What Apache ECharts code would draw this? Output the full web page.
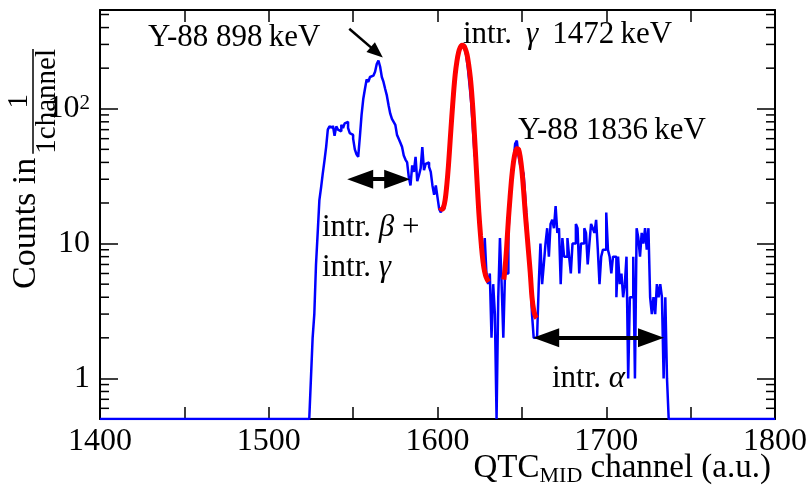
<!DOCTYPE html>
<html><head><meta charset="utf-8">
<script src="https://cdn.jsdelivr.net/npm/echarts@6/dist/echarts.min.js"></script>
<style>html,body{margin:0;padding:0;background:#fff}#c{width:810px;height:494px}</style>
</head><body><div id="c"></div>
<script>
// ---- axis ranges & tick labels ----
const xMin = 1400, xMax = 1800, xTickStep = 50;
const xLabelValues = [1400, 1500, 1600, 1700, 1800];
const yMin = 0.5, yMax = 540;
const yLabelValues = [1, 10, 100];
const yMinorTickValues = [0.6,0.7,0.8,0.9, 2,3,4,5,6,7,8,9, 20,30,40,50,60,70,80,90, 200,300,400,500];

// ---- histogram: counts per 1-channel bin, first bin starts at histStart ----
const histStart = 1524;
const counts = [
  0, 1, 2, 3, 7, 12, 21, 26, 33, 41, 52, 70,          // 1524-1535
  74, 72, 75, 63, 74, 70, 68, 76, 72, 78, 80, 72,       // 1536-1547
  66, 64, 60, 50, 46, 44, 62, 90, 118, 140, 165, 158,   // 1548-1559
  172, 176, 182, 188, 215, 228, 205, 172, 158, 140, 125, 106, // 1560-1571
  92, 84, 80, 76, 64, 60, 56, 52, 45, 42, 40, 31,       // 1572-1583
  27, 38, 34, 44, 29, 32, 36, 52, 35, 39, 40, 37,       // 1584-1595
  34, 27, 23, 27, 22, 18, 17, 19, 18, 26, 34, 48,       // 1596-1607
  75, 110, 150, 200, 250, 270, 300, 290, 280, 250, 200, 150, // 1608-1619
  110, 70, 45, 42, 22, 14, 10, 7, 11, 6, 5, 6,          // 1620-1631
  2, 5, 3, 0, 4, 11, 5, 2, 6, 6, 12, 20,                // 1632-1643
  30, 40, 55, 58, 45, 38, 36, 33, 22, 14, 8, 6,         // 1644-1655
  3, 2, 2, 2, 5, 10, 5, 7, 10, 13, 8, 14,               // 1656-1667
  15, 13, 19, 12, 13, 5, 11, 8, 8, 11, 8, 6,            // 1668-1679
  10, 10, 14, 13, 6, 10, 10, 13, 12, 7, 10, 14,         // 1680-1691
  13, 12, 15, 9, 5, 8, 9, 9, 17, 9, 8, 6,               // 1692-1703
  8, 8, 4, 8, 5, 6, 4, 5, 8, 1, 4, 4,                   // 1704-1715
  8, 1, 13, 11, 8, 12, 10, 13, 9, 13, 4, 3,             // 1716-1727
  4, 3, 5, 4, 5, 4, 1, 4, 1, 0                          // 1728-1737
];

// ---- fitted curves ----
const fit1Channels = [1601.5,1602.5,1603.5,1604.5,1605.5,1606.5,1607.5,1608.5,1609.5,1610.5,1611.5,1612.5,1613.5,1614.5,1615.5,1616.5,1617.5,1618.5,1619.5,1620.5,1621.5,1622.5,1623.5,1624.5,1625.5,1626.5,1627.5,1628.5,1629.5,1630.3];
const fit1Values   = [18.5,18,18.5,21,27,38,58,88,130,180,225,262,285,296,293,278,252,212,168,120,78,47,28,17,11.5,8.3,6.6,5.8,5.4,5.2];
const fit2Channels = [1639.3,1640,1641,1642,1643,1644,1645,1646,1647,1648,1649,1650,1651,1652,1653,1654,1655,1656,1657,1658,1658.8];
const fit2Values   = [5.4,6.5,9.5,15,22,31,40,47,50.5,50,44,35,25,17,12,8.5,6,4,3.2,2.9,2.8];

// ---- annotation arrows (data coordinates of the arrow-head centres) ----
const betaArrow  = [[1554.2, 30], [1576.1, 30]];
const alphaArrow = [[1664.4, 2], [1726.5, 2]];
const y88Arrow   = [[1547.7, 392], [1564.0, 262]];

const LF = '"Liberation Serif","Times New Roman",serif';
const chart = echarts.init(document.getElementById('c'), null, {renderer: 'canvas'});

// histogram line (bin edges, step)
const histData = [[xMin, yMin]];
for (let i = 0; i < counts.length; i++) {
  histData.push([histStart + i, counts[i] > 0 ? counts[i] : yMin]);
}
histData.push([histStart + counts.length, yMin]);
histData.push([xMax, yMin]);

const fit1 = fit1Channels.map((c, i) => [c, fit1Values[i]]);
const fit2 = fit2Channels.map((c, i) => [c, fit2Values[i]]);

const mc = document.createElement('canvas').getContext('2d');
function tw(s, size, style) { mc.font = (style || '') + ' ' + size + 'px "Liberation Serif"'; return mc.measureText(s).width; }

const LBL = 32;
const axisLineStyle = {color: '#000', width: 2};
function xAxisDef(pos, showLabel) {
  return {
    type: 'value', min: xMin, max: xMax, interval: xTickStep, position: pos,
    axisLine: {show: true, onZero: false, lineStyle: axisLineStyle},
    axisTick: {show: true, inside: true, length: 12, lineStyle: {color: '#000', width: 1.5}},
    axisLabel: {show: showLabel, margin: 7, color: '#000', fontFamily: LF, fontSize: LBL,
      formatter: v => xLabelValues.indexOf(v) >= 0 ? String(v) : ''},
    splitLine: {show: false}
  };
}
function yAxisDef(pos, showLabel) {
  return {
    type: 'log', logBase: 10, min: yMin, max: yMax, position: pos,
    axisLine: {show: true, onZero: false, lineStyle: axisLineStyle},
    axisTick: {show: true, inside: true, length: 18, lineStyle: {color: '#000', width: 1.5}},
    axisLabel: {show: showLabel, margin: 10, color: '#000', fontFamily: LF, fontSize: LBL,
      showMinLabel: false, showMaxLabel: false,
      formatter: v => {
        const r = Math.round(v);
        if (Math.abs(v - r) > 1e-6 || yLabelValues.indexOf(r) < 0) return '';
        if (r === 100) return '{b|10}{s|2}';
        return '{b|' + r + '}';
      },
      rich: {
        b: {fontFamily: LF, fontSize: LBL, color: '#000'},
        s: {fontFamily: LF, fontSize: 21, color: '#000', verticalAlign: 'top', padding: [0, 0, 10, 0]}
      }},
    splitLine: {show: false}
  };
}

function txt(x, y, text, rich) {
  return {type: 'text', x: x, y: y, silent: true,
    style: {text: text, fill: '#000', font: '31px ' + LF, align: 'left', verticalAlign: 'middle', rich: rich}};
}
const R = {
  n: {fontFamily: LF, fontSize: 31, color: '#000'},
  i: {fontFamily: LF, fontSize: 31, fontStyle: 'italic', color: '#000'}
};

// y title (rotated)
const tfs = 34, ffs = 29;
const wCounts = tw('Counts in', tfs);
const wDen = tw('1channel', ffs);
const ytX0 = 26, ytY0 = 289;      // screen anchor: centre of "Counts in" line, start of text
const fracGap = 4, barOff = 7, fracSep = 14;
const ytitle = {
  type: 'group', x: ytX0, y: ytY0, rotation: Math.PI / 2, silent: true,
  children: [
    {type: 'text', x: 0, y: 0, style: {text: 'Counts in', font: tfs + 'px ' + LF, fill: '#000', align: 'left', verticalAlign: 'middle'}},
    {type: 'text', x: wCounts + fracGap + wDen / 2, y: barOff - fracSep, style: {text: '1', font: ffs + 'px ' + LF, fill: '#000', align: 'center', verticalAlign: 'middle'}},
    {type: 'line', shape: {x1: wCounts + fracGap, y1: barOff, x2: wCounts + fracGap + wDen, y2: barOff}, style: {stroke: '#000', lineWidth: 1.5}},
    {type: 'text', x: wCounts + fracGap, y: barOff + fracSep, style: {text: '1channel', font: ffs + 'px ' + LF, fill: '#000', align: 'left', verticalAlign: 'middle'}}
  ]
};

// x title with subscript
const xfs = 33, xsfs = 22;
const xtRight = 771, xtY = 468;
const wQ = tw('QTC', xfs), wM = tw('MID', xsfs), wRest = tw(' channel (a.u.)', xfs);
const xtLeft = xtRight - (wQ + wM + wRest);
const xtitle = [
  {type: 'text', x: xtLeft, y: xtY, silent: true, style: {text: 'QTC', font: xfs + 'px ' + LF, fill: '#000', align: 'left', verticalAlign: 'middle'}},
  {type: 'text', x: xtLeft + wQ, y: xtY + 8, silent: true, style: {text: 'MID', font: xsfs + 'px ' + LF, fill: '#000', align: 'left', verticalAlign: 'middle'}},
  {type: 'text', x: xtLeft + wQ + wM, y: xtY, silent: true, style: {text: ' channel (a.u.)', font: xfs + 'px ' + LF, fill: '#000', align: 'left', verticalAlign: 'middle'}}
];

function arrowLine(pts, bothEnds, size, width) {
  return {
    silent: true, animation: false,
    symbol: bothEnds ? ['triangle', 'triangle'] : ['none', 'triangle'],
    symbolSize: size,
    label: {show: false},
    emphasis: {disabled: true},
    lineStyle: {color: '#000', width: width, type: 'solid'},
    data: [[{coord: pts[0]}, {coord: pts[1]}]]
  };
}

const option = {
  animation: false,
  backgroundColor: '#fff',
  grid: {left: 100, right: 33, top: 10, bottom: 75, containLabel: false},
  xAxis: [xAxisDef('bottom', true), xAxisDef('top', false)],
  yAxis: [yAxisDef('left', true), yAxisDef('right', false)],
  series: [
    {
      type: 'line', name: 'data', data: histData, step: 'end', symbol: 'none',
      lineStyle: {color: '#0000ff', width: 2.5}, clip: true, z: 3,
      markLine: arrowLine(betaArrow, true, [19, 26], 4)
    },
    {
      type: 'line', name: 'fit1', data: fit1, smooth: 0.3, symbol: 'none',
      lineStyle: {color: '#ff0000', width: 5}, z: 4,
      markLine: arrowLine(alphaArrow, true, [19, 26], 4)
    },
    {
      type: 'line', name: 'fit2', data: fit2, smooth: 0.3, symbol: 'none',
      lineStyle: {color: '#ff0000', width: 5}, z: 4,
      markLine: arrowLine(y88Arrow, false, [13, 16], 2.5)
    },
    {
      type: 'custom', name: 'minorTicks', z: 5, silent: true,
      data: yMinorTickValues.map(v => [xMin, v]),
      renderItem: function (params, api) {
        const v = api.value(1);
        const pl = api.coord([xMin, v]);
        const pr = api.coord([xMax, v]);
        const st = {stroke: '#000', lineWidth: 1.5};
        return {type: 'group', children: [
          {type: 'line', shape: {x1: pl[0], y1: pl[1], x2: pl[0] + 9, y2: pl[1]}, style: st},
          {type: 'line', shape: {x1: pr[0], y1: pr[1], x2: pr[0] - 9, y2: pr[1]}, style: st}
        ]};
      }
    }
  ],
  graphic: [
    txt(148, 38, '{n|Y-88 898\u2009keV}', R),
    txt(463, 35, '{n|intr. \u2009}{i|γ}{n| \u20091472\u2009keV}', R),
    txt(518, 131, '{n|Y-88 1836\u2009keV}', R),
    txt(322, 228, '{n|intr. }{i|β}{n| +}', R),
    txt(322, 268, '{n|intr. }{i|γ}', R),
    txt(552, 379, '{n|intr. }{i|α}', R),
    ytitle
  ].concat(xtitle)
};
chart.setOption(option);
</script>
</body></html>
